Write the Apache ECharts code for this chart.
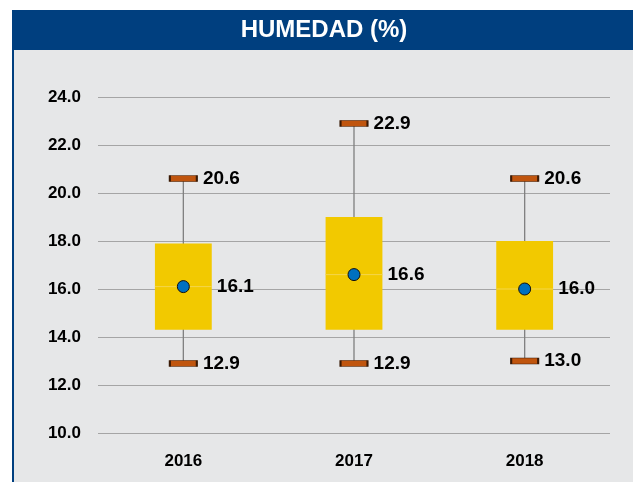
<!DOCTYPE html>
<html>
<head>
<meta charset="utf-8">
<script src="https://cdn.jsdelivr.net/npm/echarts@6/dist/echarts.min.js"></script>
<style>
  html, body { margin: 0; padding: 0; background: #fff; }
  #chart { width: 633px; height: 482px; }
</style>
</head>
<body>
<div id="chart"></div>
<script>
// datos
const years = ["2016", "2017", "2018"];
const maxVals = [20.6, 22.9, 20.6];
const q3Vals = [17.9, 19.0, 18.0];
const meanVals = [16.1, 16.6, 16.0];
const q1Vals = [14.3, 14.3, 14.3];
const minVals = [12.9, 12.9, 13.0];
const yTicks = [10, 12, 14, 16, 18, 20, 22, 24];

const blue = "#003f7f";
const labelFont = "Liberation Sans, Arial, sans-serif";

let myChart = echarts.init(document.getElementById("chart"));

// filas para la serie custom: [idx, min, q1, media, q3, max]
const boxRows = years.map((y, i) => [i, minVals[i], q1Vals[i], meanVals[i], q3Vals[i], maxVals[i]]);

function renderBox(params, api) {
  const idx = api.value(0);
  const bw = api.size([1, 0])[0] * 0.333;
  const pMin = api.coord([idx, api.value(1)]);
  const pQ1 = api.coord([idx, api.value(2)]);
  const pMed = api.coord([idx, api.value(3)]);
  const pQ3 = api.coord([idx, api.value(4)]);
  const pMax = api.coord([idx, api.value(5)]);
  return {
    type: "group",
    children: [
      {
        type: "line",
        shape: { x1: pMax[0], y1: pMax[1], x2: pMin[0], y2: pMin[1] },
        style: { stroke: "#7f7f7f", lineWidth: 1.3 }
      },
      {
        type: "rect",
        shape: { x: pQ3[0] - bw / 2, y: pQ3[1], width: bw, height: pQ1[1] - pQ3[1] },
        style: { fill: "#f2c900" }
      },
      {
        type: "line",
        shape: { x1: pMed[0] - bw / 2, y1: pMed[1], x2: pMed[0] + bw / 2, y2: pMed[1] },
        style: { stroke: "#f4d64a", lineWidth: 1 }
      }
    ]
  };
}

const capLabel = {
  show: true,
  position: "right",
  distance: 5,
  color: "#000",
  fontFamily: labelFont,
  fontWeight: "bold",
  fontSize: 19,
  formatter: (p) => p.value[1].toFixed(1)
};

let option = {
  animation: false,
  backgroundColor: "#fff",
  graphic: [
    { type: "rect", z: -10, shape: { x: 12, y: 50, width: 621, height: 432 }, style: { fill: "#e6e7e8" } },
    { type: "rect", z: -10, shape: { x: 12, y: 10, width: 621, height: 40 }, style: { fill: blue } },
    { type: "rect", z: -10, shape: { x: 12, y: 10, width: 2, height: 472 }, style: { fill: blue } }
  ],
  title: {
    text: "HUMEDAD (%)",
    left: 324,
    textAlign: "center",
    top: 18,
    padding: 0,
    textStyle: {
      color: "#fff",
      fontFamily: labelFont,
      fontWeight: "bold",
      fontSize: 24
    }
  },
  grid: {
    left: 98,
    right: 23,
    top: 97,
    bottom: 49
  },
  xAxis: {
    type: "category",
    data: years,
    axisLine: { show: false },
    axisTick: { show: false },
    axisLabel: {
      margin: 20,
      color: "#000",
      fontFamily: labelFont,
      fontWeight: "bold",
      fontSize: 17
    }
  },
  yAxis: {
    type: "value",
    min: yTicks[0],
    max: yTicks[yTicks.length - 1],
    interval: 2,
    axisLine: { show: false },
    axisTick: { show: false },
    axisLabel: {
      margin: 17,
      color: "#000",
      fontFamily: labelFont,
      fontWeight: "bold",
      fontSize: 17,
      formatter: (v) => v.toFixed(1)
    },
    splitLine: { lineStyle: { color: "#a5a5a5", width: 1 } }
  },
  series: [
    {
      name: "caja",
      type: "custom",
      renderItem: renderBox,
      encode: { x: 0, y: [1, 2, 3, 4, 5] },
      data: boxRows,
      z: 2
    },
    {
      name: "max",
      type: "scatter",
      symbol: "rect",
      symbolSize: [27, 6],
      itemStyle: { color: "#c0550e", borderColor: "#3a1a05", borderWidth: 1, opacity: 1 },
      label: capLabel,
      data: years.map((y, i) => [i, maxVals[i]]),
      z: 4
    },
    {
      name: "min",
      type: "scatter",
      symbol: "rect",
      symbolSize: [27, 6],
      itemStyle: { color: "#c0550e", borderColor: "#3a1a05", borderWidth: 1, opacity: 1 },
      label: capLabel,
      data: years.map((y, i) => [i, minVals[i]]),
      z: 4
    },
    {
      name: "media",
      type: "scatter",
      symbol: "circle",
      symbolSize: 12,
      itemStyle: { color: "#0070c0", borderColor: "#111", borderWidth: 1, opacity: 1 },
      label: Object.assign({}, capLabel, { distance: 27 }),
      data: years.map((y, i) => [i, meanVals[i]]),
      z: 5
    }
  ]
};

option && myChart.setOption(option);
</script>
</body>
</html>
